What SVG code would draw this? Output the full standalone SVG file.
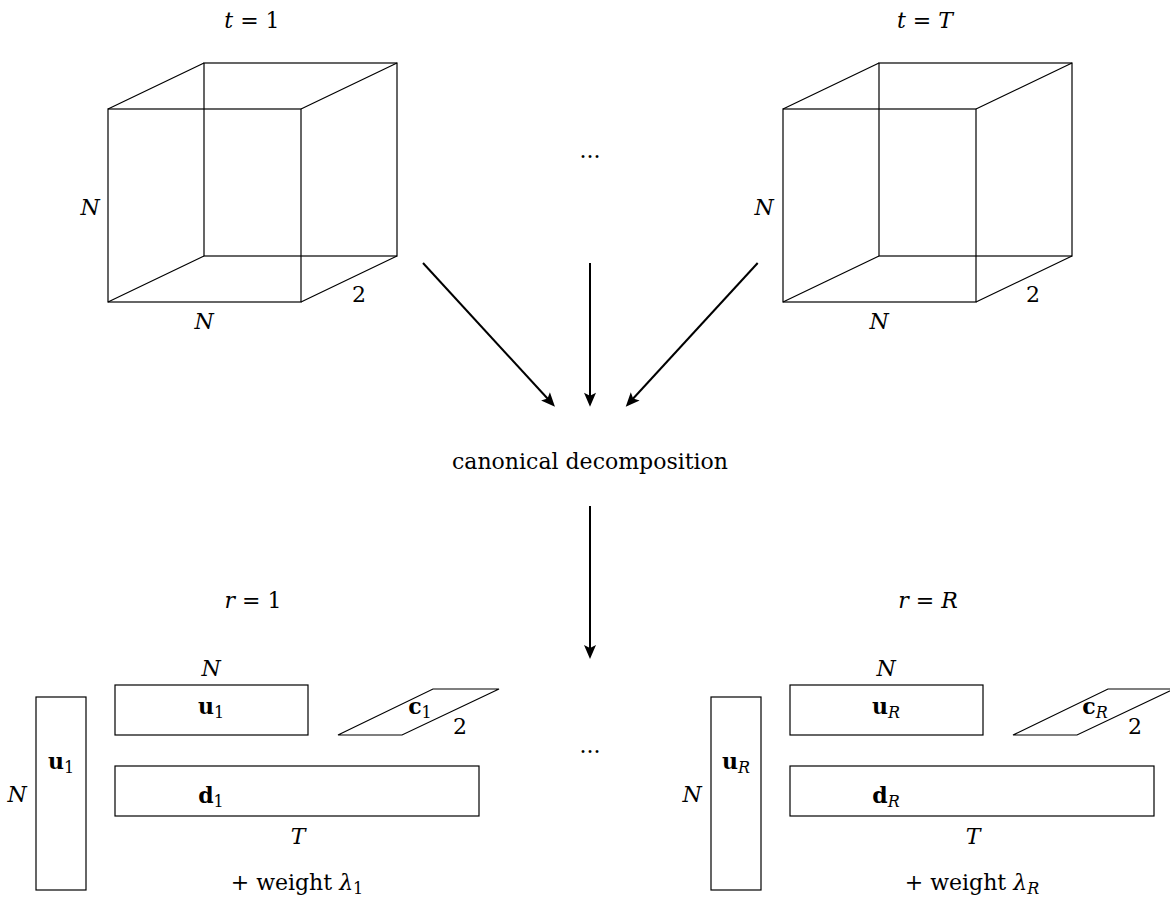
<svg xmlns="http://www.w3.org/2000/svg" width="1170" height="902" viewBox="0 0 1170 902">
<defs>
<style>
.s{fill:none;stroke:#000;stroke-width:1.2}
.a{fill:none;stroke:#000;stroke-width:2}
text{font-family:"DejaVu Serif","Liberation Serif",serif;font-size:22px;fill:#000;text-anchor:middle}
.i{font-style:italic}
.b{font-weight:bold}
.sub{font-size:16px}
</style>
<marker id="ah" markerUnits="userSpaceOnUse" viewBox="-5 -8 18 16" markerWidth="18" markerHeight="16" refX="0" refY="0" orient="auto">
<path d="M10,0 L-4,-6 L-1,0 L-4,6 Z" fill="#000"/>
</marker>
</defs>
<rect width="1170" height="902" fill="#fff"/>

<g id="cube1">
<text x="252" y="28"><tspan class="i">t</tspan> = 1</text>
<rect class="s" x="108" y="109" width="193" height="193"/>
<rect class="s" x="204" y="63" width="193" height="193"/>
<path class="s" d="M108,109 L204,63 M301,109 L397,63 M301,302 L397,256 M108,302 L204,256"/>
<text class="i" x="90" y="215">N</text>
<text class="i" x="204" y="329">N</text>
<text x="359" y="302">2</text>
</g>

<g id="cubeT">
<text x="925" y="28"><tspan class="i">t</tspan> = <tspan class="i">T</tspan></text>
<rect class="s" x="783" y="109" width="193" height="193"/>
<rect class="s" x="879" y="63" width="193" height="193"/>
<path class="s" d="M783,109 L879,63 M976,109 L1072,63 M976,302 L1072,256 M783,302 L879,256"/>
<text class="i" x="764" y="215">N</text>
<text class="i" x="879" y="329">N</text>
<text x="1033" y="302">2</text>
</g>

<g id="dots-top"><text x="590" y="158">...</text></g>

<g id="cd"><text x="590" y="469">canonical decomposition</text></g>

<g id="rank1">
<text x="253" y="608"><tspan class="i">r</tspan> = 1</text>
<text class="i" x="211" y="676">N</text>
<rect class="s" x="115" y="685" width="193" height="50"/>
<rect class="s" x="36" y="697" width="50" height="193"/>
<rect class="s" x="115" y="766" width="364" height="50"/>
<polygon class="s" points="338,735 402,735 499,689 433,689"/>
<text x="211" y="714"><tspan class="b">u</tspan><tspan class="sub" dy="4">1</tspan></text>
<text x="61" y="769"><tspan class="b">u</tspan><tspan class="sub" dy="4">1</tspan></text>
<text class="i" x="17" y="802">N</text>
<text x="420" y="714"><tspan class="b">c</tspan><tspan class="sub" dy="4">1</tspan></text>
<text x="460" y="734">2</text>
<text x="211" y="803"><tspan class="b">d</tspan><tspan class="sub" dy="4">1</tspan></text>
<text class="i" x="298" y="844">T</text>
<text x="297" y="890">+ weight <tspan class="i">λ</tspan><tspan class="sub" dy="4">1</tspan></text>
</g>

<g id="dots-bottom"><text x="590" y="753">...</text></g>

<g id="rankR">
<text x="928" y="608"><tspan class="i">r</tspan> = <tspan class="i">R</tspan></text>
<text class="i" x="886" y="676">N</text>
<rect class="s" x="790" y="685" width="193" height="50"/>
<rect class="s" x="711" y="697" width="50" height="193"/>
<rect class="s" x="790" y="766" width="364" height="50"/>
<polygon class="s" points="1013,735 1077,735 1174,689 1108,689"/>
<text x="886" y="714"><tspan class="b">u</tspan><tspan class="sub i" dy="4">R</tspan></text>
<text x="736" y="769"><tspan class="b">u</tspan><tspan class="sub i" dy="4">R</tspan></text>
<text class="i" x="692" y="802">N</text>
<text x="1095" y="714"><tspan class="b">c</tspan><tspan class="sub i" dy="4">R</tspan></text>
<text x="1135" y="734">2</text>
<text x="886" y="803"><tspan class="b">d</tspan><tspan class="sub i" dy="4">R</tspan></text>
<text class="i" x="973" y="844">T</text>
<text x="972" y="890">+ weight <tspan class="i">λ</tspan><tspan class="sub i" dy="4">R</tspan></text>
</g>

<g id="connectors">
<line class="a" x1="423" y1="263" x2="548.2" y2="399.3" marker-end="url(#ah)"/>
<line class="a" x1="590" y1="263" x2="590" y2="396.7" marker-end="url(#ah)"/>
<line class="a" x1="757.7" y1="263" x2="632.5" y2="399.3" marker-end="url(#ah)"/>
<line class="a" x1="590" y1="506" x2="590" y2="649" marker-end="url(#ah)"/>
</g>
</svg>
